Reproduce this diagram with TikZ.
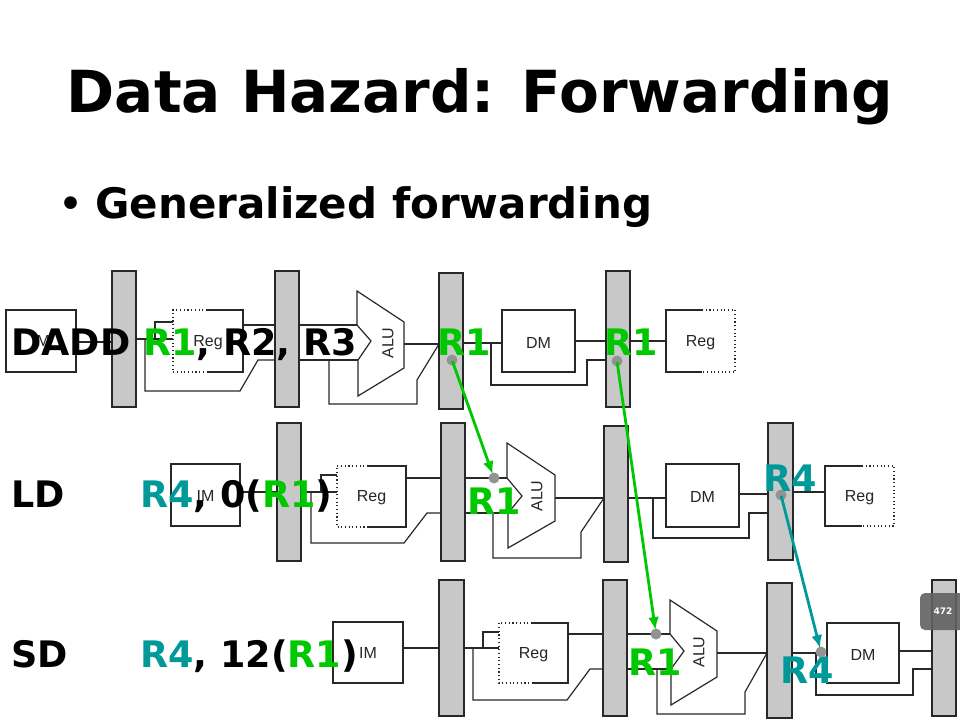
\documentclass[tikz,border=0pt]{standalone}
\usepackage{fontspec}
\setmainfont{DejaVu Sans}
\newfontfamily\labfont{Liberation Sans}
\usetikzlibrary{arrows.meta}
\definecolor{fgreen}{RGB}{0,200,0}
\definecolor{fteal}{RGB}{0,153,153}
\definecolor{wirec}{RGB}{40,40,40}
\definecolor{barc}{RGB}{200,200,200}
\tikzset{
  wire/.style={draw=wirec,line width=1.2pt},
  dotline/.style={dash pattern=on 1.1pt off 2.6pt},
  regbar/.style={draw=wirec,fill=barc,line width=1.3pt},
  unit/.style={draw=wirec,fill=white,line width=1.2pt},
  lbl/.style={font=\labfont\fontsize{16}{18}\selectfont,text=black!85,inner sep=0pt},
  instr/.style={font=\fontsize{36.5}{40}\selectfont\bfseries,inner sep=0pt,anchor=base west},
  pdot/.style={fill=gray!85!white},
  fwd/.style={line width=2.8pt,-{Latex[length=13pt,width=11pt]},shorten <=1pt},
}
\newcommand\regL[5]{%
  \fill[white] (#1,#2) rectangle (#3,#4);
  \draw[wire] (#5,#2)--(#3,#2)--(#3,#4)--(#5,#4);
  \draw[wire,dotline] (#5,#2)--(#1,#2)--(#1,#4)--(#5,#4);}
\newcommand\regR[5]{%
  \fill[white] (#1,#2) rectangle (#3,#4);
  \draw[wire] (#5,#2)--(#1,#2)--(#1,#4)--(#5,#4);
  \draw[wire,dotline] (#5,#2)--(#3,#2)--(#3,#4)--(#5,#4);}
\newcommand\pbar[4]{\draw[regbar] (#1,#2) rectangle (#3,#4);}
\begin{document}
\begin{tikzpicture}[x=1pt,y=-1pt]
\useasboundingbox (0,0) rectangle (960,720);
\clip (0,0) rectangle (960,720);

% title and bullet
\node[inner sep=0pt,anchor=base,font=\fontsize{58}{62}\selectfont\bfseries] (title) at (480,112) {Data Hazard: Forwarding};
\node[inner sep=0pt,anchor=base west,font=\fontsize{36}{40}\selectfont\bfseries] (bmark) at (59,216) {\textbullet};
\node[inner sep=0pt,anchor=base west,font=\fontsize{42}{46}\selectfont\bfseries] (bullet) at (95,218) {Generalized forwarding};

% ===== Row 1 =====
\draw[unit] (6,310) rectangle (76,372);
\node[lbl] (im1) at (41,341) {IM};
\draw[wire] (76,342)--(112,342);
\pbar{112}{271}{136}{407}
\draw[wire] (136,339)--(173,339) (155,339)--(155,322)--(173,322);
\draw[wire] (145,339)--(145,391)--(240,391)--(258,360)--(275,360);
\regL{173}{310}{243}{372}{207}
\node[lbl] (rega1) at (208,343) {Reg};
\draw[wire] (243,325)--(275,325);
\pbar{275}{271}{299}{407}
\draw[wire] (299,325)--(357,325) (299,360)--(358,360);
\draw[wire] (329,360)--(329,404)--(417,404)--(417,380)--(439,344);
\draw[unit] (357,291)--(404,322)--(404,368)--(358,396)--(358,360)--(371,341)--(357,325)--cycle;
\node[lbl,rotate=90] (alu1) at (388,343) {ALU};
\draw[wire] (404,344)--(439,344);
\pbar{439}{273}{463}{409}
\draw[wire] (463,343)--(502,343) (491,343)--(491,385)--(587,385)--(587,360)--(606,360);
\draw[unit] (502,310) rectangle (575,372);
\node[lbl] (dm1) at (538.5,343) {DM};
\draw[wire] (575,341)--(606,341);
\pbar{606}{271}{630}{407}
\draw[wire] (630,341)--(666,341);
\regR{666}{310}{735}{372}{702}
\node[lbl] (regb1) at (700.5,343) {Reg};

% ===== Row 2 =====
\draw[unit] (171,464) rectangle (240,526);
\node[lbl] (im2) at (205.5,496) {IM};
\draw[wire] (240,492)--(277,492);
\pbar{277}{423}{301}{561}
\draw[wire] (301,492)--(337,492) (321,492)--(321,475)--(337,475);
\draw[wire] (311,492)--(311,543)--(404,543)--(427,513)--(441,513);
\regL{337}{466}{406}{527}{368}
\node[lbl] (rega2) at (371.5,498) {Reg};
\draw[wire] (406,478)--(441,478);
\pbar{441}{423}{465}{561}
\draw[wire] (465,478)--(507,478) (465,513)--(508,513);
\draw[wire] (493,513)--(493,558)--(581,558)--(581,532)--(604,498);
\draw[unit] (507,443)--(555,475)--(555,521)--(508,548)--(508,513)--(522,496)--(507,478)--cycle;
\node[lbl,rotate=90] (alu2) at (537,496) {ALU};
\draw[wire] (555,498)--(604,498);
\pbar{604}{426}{628}{562}
\draw[wire] (628,498)--(666,498) (653,498)--(653,538)--(749,538)--(749,513)--(768,513);
\draw[unit] (666,464) rectangle (739,527);
\node[lbl] (dm2) at (702.5,497) {DM};
\draw[wire] (739,494)--(768,494);
\pbar{768}{423}{793}{560}
\draw[wire] (793,492)--(825,492);
\regR{825}{466}{894}{526}{862}
\node[lbl] (regb2) at (859.5,498) {Reg};

% ===== Row 3 =====
\draw[unit] (333,622) rectangle (403,683);
\node[lbl] (im3) at (368,653) {IM};
\draw[wire] (403,648)--(439,648);
\pbar{439}{580}{464}{716}
\draw[wire] (464,648)--(499,648) (483,648)--(483,632)--(499,632);
\draw[wire] (473,648)--(473,700)--(567,700)--(590,669)--(603,669);
\regL{499}{623}{568}{683}{532}
\node[lbl] (rega3) at (533.5,655) {Reg};
\draw[wire] (568,634)--(603,634);
\pbar{603}{580}{627}{716}
\draw[wire] (627,634)--(670,634) (627,669)--(671,669);
\draw[wire] (657,669)--(657,714)--(745,714)--(745,692)--(767,653);
\draw[unit] (670,600)--(717,631)--(717,677)--(671,705)--(671,669)--(684,651)--(670,634)--cycle;
\node[lbl,rotate=90] (alu3) at (699,652) {ALU};
\draw[wire] (717,653)--(767,653);
\pbar{767}{583}{792}{718}
\draw[wire] (792,653)--(827,653) (816,653)--(816,695)--(913,695)--(913,669)--(932,669);
\draw[unit] (827,623) rectangle (899,683);
\node[lbl] (dm3) at (863,655) {DM};
\draw[wire] (899,651)--(932,651);
\pbar{932}{580}{956}{716}

% badge
\fill[black!62,opacity=0.9,rounded corners=5pt] (920,593) rectangle (975,630);
\node[inner sep=0pt,text=white,font=\fontsize{9}{10}\selectfont\bfseries] (badge) at (943,611.5) {472};

% instruction texts
\node[instr] (i1) at (11,355) {DADD \textcolor{fgreen}{R1}, R2, R3};
\node[instr] (op2) at (11,507) {LD};
\node[instr] (i2) at (140,507) {\textcolor{fteal}{R4}, 0(\textcolor{fgreen}{R1})};
\node[instr] (op3) at (11,667) {SD};
\node[instr] (i3) at (140,667) {\textcolor{fteal}{R4}, 12(\textcolor{fgreen}{R1})};

% register labels
\node[instr,text=fgreen] (l1) at (437,355) {R1};
\node[instr,text=fgreen] (l2) at (604,355) {R1};
\node[instr,text=fgreen] (l3) at (467,514) {R1};
\node[instr,text=fteal] (l4) at (763,491) {R4};
\node[instr,text=fgreen] (l5) at (628,675) {R1};
\node[instr,text=fteal] (l6) at (780,683) {R4};

% dots
\coordinate (d1) at (452,360);
\coordinate (d2) at (617,361);
\coordinate (d3) at (494,478);
\coordinate (d4) at (781,495);
\coordinate (d5) at (656,634);
\coordinate (d6) at (821,652);
\foreach \d in {d1,d2,d3,d4,d5,d6} \fill[pdot] (\d) circle (5.5pt);

% forwarding arrows
\draw[fwd,fgreen,shorten >=4pt] (d1) -- (d3);
\draw[fwd,fgreen,shorten >=4pt] (d2) -- (d5);
\draw[fwd,fteal,shorten >=4pt] (d4) -- (d6);
\end{tikzpicture}
\end{document}
